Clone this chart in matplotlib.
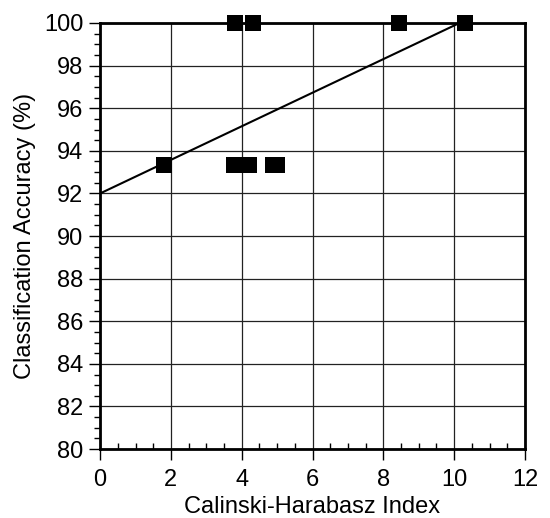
import numpy as np
import matplotlib.pyplot as plt
from matplotlib.ticker import MultipleLocator

plt.rcParams['font.family'] = ['Liberation Sans', 'DejaVu Sans']

# puntos medidos
ch_index = [1.8, 3.77, 4.21, 4.87, 4.99, 3.80, 4.31, 8.43, 10.30]
accuracy = [93.33, 93.33, 93.33, 93.33, 93.33, 100, 100, 100, 100]

# recta de ajuste
fit_x = [0.0, 10.15]
fit_y = [92.0, 100.0]

fig = plt.figure(figsize=(5.5, 5.18), dpi=100)
ax = fig.add_axes([0.182, 0.133, 0.7725, 0.8226])

ax.plot(fit_x, fit_y, color='black', lw=1.5, zorder=3)
ax.scatter(ch_index, accuracy, marker='s', s=125, color='black',
           zorder=4, clip_on=False, linewidths=0)

ax.set_xlim(0, 12)
ax.set_ylim(80, 100)
ax.xaxis.set_major_locator(MultipleLocator(2))
ax.xaxis.set_minor_locator(MultipleLocator(0.5))
ax.yaxis.set_major_locator(MultipleLocator(2))
ax.yaxis.set_minor_locator(MultipleLocator(0.5))

ax.grid(True, which='major', color='#222222', lw=0.9)
ax.set_axisbelow(True)

ax.tick_params(axis='both', which='major', direction='out', length=8,
               width=1, labelsize=17)
ax.tick_params(axis='x', which='major', pad=6)
ax.tick_params(axis='y', which='major', pad=4)
ax.tick_params(axis='x', which='minor', direction='in', length=4, width=1)
ax.tick_params(axis='y', which='minor', direction='out', length=4, width=1)

for s in ax.spines.values():
    s.set_linewidth(2)

ax.set_xlabel('Calinski-Harabasz Index', fontsize=17, labelpad=4)
ax.set_ylabel('Classification Accuracy (%)', fontsize=17, labelpad=6)

fig.savefig('out.png', dpi=100)
